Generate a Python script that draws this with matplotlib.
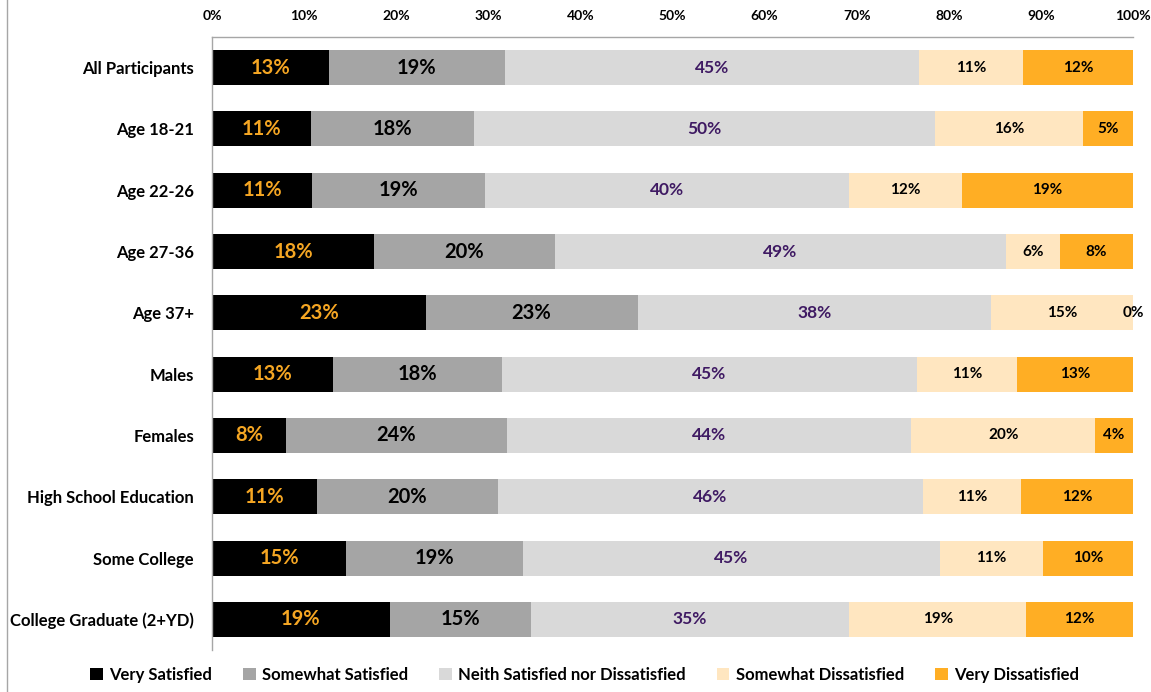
import numpy as np
import matplotlib
matplotlib.use("Agg")
import matplotlib.pyplot as plt
from matplotlib.lines import Line2D

plt.rcParams['font.family'] = ['Lato', 'DejaVu Sans']
plt.rcParams['font.weight'] = 'bold'

# survey groups, top to bottom
groups = ["All Participants", "Age 18-21", "Age 22-26", "Age 27-36", "Age 37+",
          "Males", "Females", "High School Education", "Some College",
          "College Graduate (2+YD)"]

responses = ["Very Satisfied", "Somewhat Satisfied",
             "Neith Satisfied nor Dissatisfied", "Somewhat Dissatisfied",
             "Very Dissatisfied"]

# percent of each group giving each response
very_sat = [12.7, 10.7, 10.9, 17.6, 23.2, 13.1, 8.0, 11.4, 14.6, 19.3]
some_sat = [19.1, 17.8, 18.7, 19.6, 23.0, 18.4, 24.0, 19.6, 19.2, 15.3]
neither = [45.0, 50.0, 39.6, 49.0, 38.4, 45.0, 43.9, 46.2, 45.2, 34.6]
some_dis = [11.3, 16.1, 12.2, 5.9, 15.4, 10.9, 20.0, 10.6, 11.2, 19.2]
very_dis = [11.9, 5.4, 18.6, 7.9, 0.0, 12.6, 4.1, 12.2, 9.8, 11.6]

series = [very_sat, some_sat, neither, some_dis, very_dis]
colors = ["#000000", "#A5A5A5", "#D9D9D9", "#FFE6C0", "#FFAE24"]
label_colors = ["#F5A623", "#000000", "#3F1A63", "#000000", "#000000"]
label_sizes = [14.5, 14.5, 12.5, 11, 11]

fig = plt.figure(figsize=(11.51, 6.92), dpi=100)
ax = fig.add_axes([212 / 1151, 1 - 650 / 692, 921 / 1151, 613 / 692])

y = np.arange(len(groups))
left = np.zeros(len(groups))
for vals, col, lcol, lsize, name in zip(series, colors, label_colors, label_sizes, responses):
    vals = np.array(vals)
    ax.barh(y, vals, left=left, height=0.57, color=col, label=name)
    for yi, (l, v) in enumerate(zip(left, vals)):
        ax.text(l + v / 2, yi, f"{v:.0f}%", ha='center', va='center',
                color=lcol, fontsize=lsize, fontweight='bold')
    left += vals

ax.set_xlim(0, 100)
ax.set_ylim(len(groups) - 0.5, -0.5)
ax.set_yticks(y)
ax.set_yticklabels(groups, fontsize=12, fontweight='bold')
ax.set_xticks(np.arange(0, 101, 10))
ax.set_xticklabels([f"{t}%" for t in range(0, 101, 10)], fontsize=10, fontweight='bold')
ax.xaxis.tick_top()
ax.tick_params(axis='x', length=0, pad=11)
ax.tick_params(axis='y', length=0, pad=13)

for side in ['right', 'bottom']:
    ax.spines[side].set_visible(False)
for side in ['top', 'left']:
    ax.spines[side].set_color('#A6A6A6')
    ax.spines[side].set_linewidth(1)

fig.legend(loc='lower center', bbox_to_anchor=(0.508, -0.008), ncol=5, frameon=False,
           handlelength=0.75, handleheight=0.75, handletextpad=0.4,
           columnspacing=1.85, prop={'weight': 'bold', 'size': 12})

# thin frame line along the left edge
fig.add_artist(Line2D([6.5 / 1151, 6.5 / 1151], [0, 1], color='#A6A6A6', lw=1))

fig.savefig("out.png", dpi=100, facecolor='white')
